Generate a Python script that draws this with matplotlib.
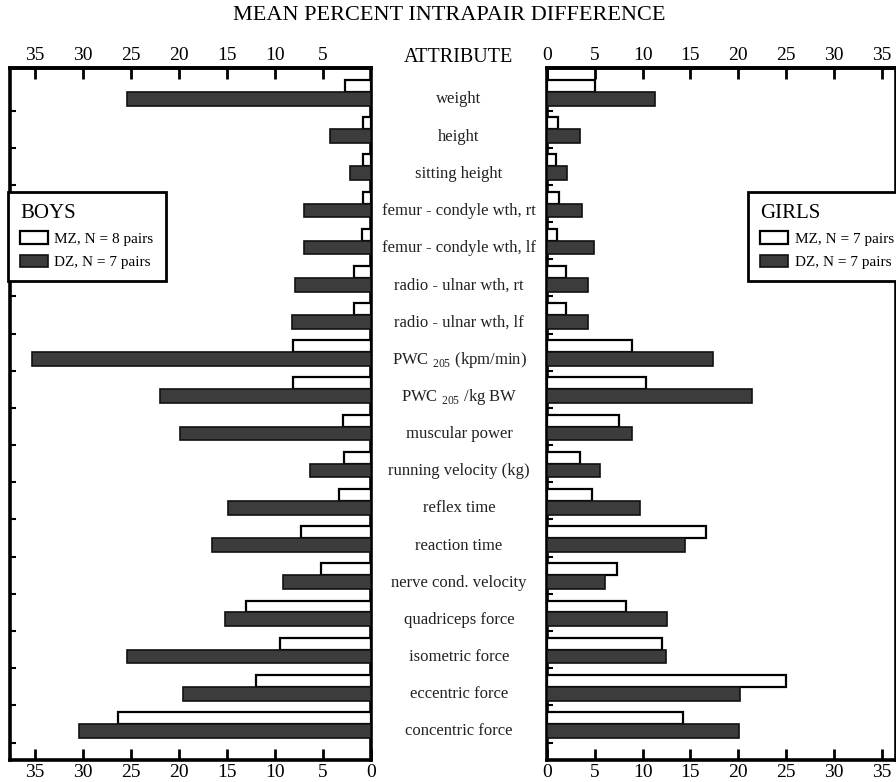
import numpy as np
import matplotlib
matplotlib.use('Agg')
import matplotlib.pyplot as plt
from matplotlib.transforms import blended_transform_factory

plt.rcParams['font.family'] = ['Liberation Serif', 'DejaVu Serif']

attributes = ['weight', 'height', 'sitting height', 'femur - condyle wth, rt',
              'femur - condyle wth, lf', 'radio - ulnar wth, rt', 'radio - ulnar wth, lf',
              r'PWC $_{\mathregular{205}}$ (kpm/min)', r'PWC $_{\mathregular{205}}$ /kg BW',
              'muscular power', 'running velocity (kg)', 'reflex time', 'reaction time',
              'nerve cond. velocity', 'quadriceps force', 'isometric force',
              'eccentric force', 'concentric force']

boys_mz = [2.7, 0.8, 0.8, 0.8, 0.9, 1.8, 1.8, 8.1, 8.1, 2.9, 2.8, 3.3, 7.3, 5.2, 13.0, 9.5, 12.0, 26.3]
boys_dz = [25.4, 4.3, 2.2, 7.0, 7.0, 7.9, 8.2, 35.3, 22.0, 19.9, 6.4, 14.9, 16.6, 9.2, 15.2, 25.4, 19.6, 30.4]
girls_mz = [5.0, 1.2, 0.9, 1.3, 1.0, 2.0, 2.0, 8.9, 10.4, 7.5, 3.4, 4.7, 16.6, 7.3, 8.3, 12.0, 25.0, 14.2]
girls_dz = [11.3, 3.5, 2.1, 3.7, 4.9, 4.3, 4.3, 17.4, 21.4, 8.9, 5.5, 9.7, 14.4, 6.1, 12.5, 12.4, 20.2, 20.1]

ticks = [0, 5, 10, 15, 20, 25, 30, 35]
DARK = '#3c3c3c'

fig = plt.figure(figsize=(8.96, 7.82), dpi=100)
axL = fig.add_axes([10/896, 22/782, 361/896, 692/782])
axR = fig.add_axes([547/896, 22/782, 349/896, 692/782])

y = np.arange(len(attributes))
h_mz, h_dz = 0.32, 0.37


def panel(ax, mz, dz, xmax, invert, title, nmz, ndz, lx):
    b1 = ax.barh(y - h_mz / 2, mz, height=h_mz, color='white', edgecolor='black', lw=1.6,
                 label=f'MZ, N = {nmz} pairs', zorder=3)
    b2 = ax.barh(y + h_dz / 2, dz, height=h_dz, color=DARK, edgecolor='#111111', lw=1.2,
                 label=f'DZ, N = {ndz} pairs', zorder=3)
    ax.set_ylim(len(attributes) - 1 + 0.97, -0.645)
    ax.set_xlim((xmax, 0) if invert else (0, xmax))
    for s in ax.spines.values():
        s.set_linewidth(2.6)
    ax.set_xticks(ticks)
    ax.tick_params(axis='x', direction='in', length=8, width=2, labelsize=14, pad=3)
    ax.set_yticks(y + 0.5)
    ax.set_yticklabels([])
    ax.tick_params(axis='y', direction='in', length=4, width=1.5, left=True, right=False)
    top = ax.secondary_xaxis('top')
    top.set_xticks([t for t in ticks if t > 0] if invert else ticks)
    top.tick_params(direction='in', length=8, width=2, labelsize=14, pad=3)
    top.spines['top'].set_linewidth(2.6)
    leg = ax.legend(handles=[b1, b2], title=title, loc='upper left', bbox_to_anchor=(lx, 0.821),
                    borderaxespad=0, fontsize=11, title_fontsize=15, alignment='left',
                    fancybox=False, framealpha=1, edgecolor='black', handlelength=1.8,
                    handleheight=0.9, handletextpad=0.45, borderpad=0.8, labelspacing=0.55)
    leg.get_frame().set_linewidth(2)
    leg.set_zorder(10)


panel(axL, boys_mz, boys_dz, 37.6, True, 'BOYS', 8, 7, -0.006)
panel(axR, girls_mz, girls_dz, 36.5, False, 'GIRLS', 7, 7, 0.576)

# attribute names in the gap between the two panels
tr = blended_transform_factory(fig.transFigure, axL.transData)
for i, name in enumerate(attributes):
    fig.text(459/896, i + 0.2, name, transform=tr, ha='center', va='center',
             fontsize=12, color='#222222')

fig.text(458/896, 1 - 58/782, 'ATTRIBUTE', ha='center', va='center', fontsize=14.5)
fig.text(449/896, 1 - 15/782, 'MEAN PERCENT INTRAPAIR DIFFERENCE', ha='center', va='center',
         fontsize=16)

fig.savefig('out.png', dpi=100, facecolor='white')
